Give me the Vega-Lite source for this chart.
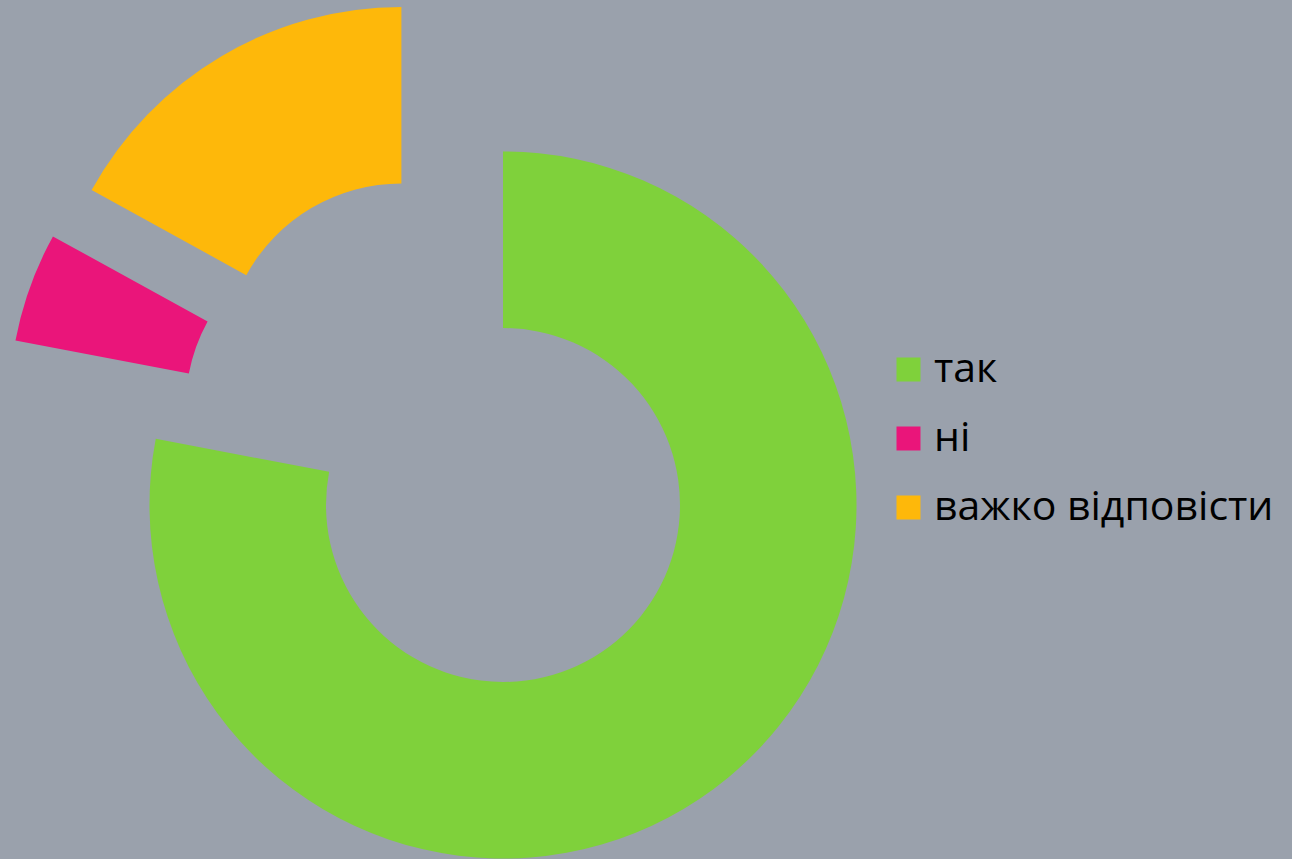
{
  "$schema": "https://vega.github.io/schema/vega-lite/v6.json",
  "autosize": {"type": "none"},
  "width": 1006,
  "height": 708,
  "padding": {"top": 151, "left": 0, "right": 286, "bottom": 0},
  "background": "#9aa1ac",
  "config": {"view": {"stroke": null}},
  "data": {
    "values": [
      {"answer": "так", "value": 78},
      {"answer": "ні", "value": 5},
      {"answer": "важко відповісти", "value": 17}
    ]
  },
  "transform": [
    {"stack": "value", "groupby": [], "as": ["t0", "t1"]}
  ],
  "encoding": {
    "theta": {"field": "t0", "type": "quantitative", "scale": {"domain": [0, 100]}},
    "theta2": {"field": "t1"},
    "color": {
      "field": "answer",
      "type": "nominal",
      "scale": {
        "domain": ["так", "ні", "важко відповісти"],
        "range": ["#7fd13b", "#ea157a", "#feb80a"]
      },
      "legend": {
        "title": null,
        "orient": "none",
        "legendX": 888,
        "legendY": 198,
        "padding": 0,
        "symbolType": "square",
        "symbolSize": 576,
        "symbolStrokeWidth": 0,
        "symbolOpacity": 1,
        "labelFont": "Open Sans",
        "labelFontSize": 41,
        "labelColor": "#000000",
        "labelOffset": 5,
        "labelLimit": 500,
        "rowPadding": 27
      }
    }
  },
  "layer": [
    {
      "transform": [{"filter": "datum.answer === 'так'"}],
      "mark": {"type": "arc", "radius": 353.5, "radius2": 177}
    },
    {
      "transform": [{"filter": "datum.answer === 'ні'"}],
      "mark": {"type": "arc", "radius": 353.5, "radius2": 177, "xOffset": -140.3, "yOffset": -98.3}
    },
    {
      "transform": [{"filter": "datum.answer === 'важко відповісти'"}],
      "mark": {"type": "arc", "radius": 353.5, "radius2": 177, "xOffset": -101.6, "yOffset": -144.6}
    }
  ]
}
